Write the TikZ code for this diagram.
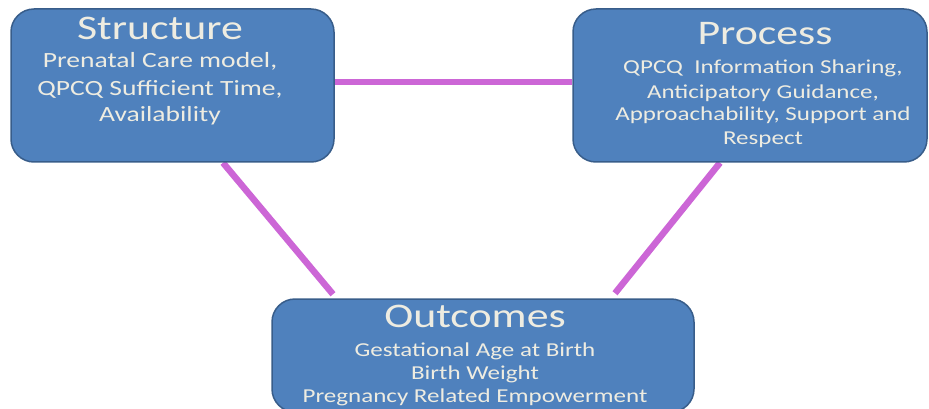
\documentclass[tikz,border=0pt]{standalone}
\usepackage{fontspec}
\newfontfamily\cf[FakeStretch=1.27]{Carlito}
\usetikzlibrary{backgrounds}
\definecolor{boxfill}{HTML}{4F81BD}
\definecolor{boxline}{HTML}{385D8A}
\definecolor{txtcol}{HTML}{EEECE1}
\definecolor{linkcol}{RGB}{204,102,214}
\tikzset{
  panel/.style={draw=boxline, line width=1.5pt, fill=boxfill, rounded corners=23pt,
    inner sep=0pt, rectangle},
  titletext/.style={text=txtcol, anchor=base, inner sep=0pt,
    font=\cf\fontsize{34.5}{40}\selectfont},
  bigbody/.style={text=txtcol, anchor=base, inner sep=0pt,
    font=\cf\fontsize{21.7}{26}\selectfont},
  smallbody/.style={text=txtcol, anchor=base, inner sep=0pt,
    font=\cf\fontsize{19.7}{24}\selectfont},
  linkline/.style={draw=linkcol, line width=6.5pt}
}
\begin{document}
\begin{tikzpicture}[x=1pt,y=-1pt]
\useasboundingbox (0,0) rectangle (929,409);
% boxes
\node[panel, minimum width=323pt, minimum height=153pt] (S) at (172.5,85.5) {};
\node[panel, minimum width=354pt, minimum height=153pt] (P) at (750,85.5) {};
\node[panel, minimum width=422pt, minimum height=113pt] (O) at (483,355.5) {};
% Structure text
\node[titletext] (st) at (160,40) {Structure};
\node[bigbody] (s1) at (160,68) {Prenatal Care model,};
\node[bigbody] (s2) at (160,96) {QPCQ Sufficient Time,};
\node[bigbody] (s3) at (160,122) {Availability};
% Process text
\node[titletext] (pt) at (765,45) {Process};
\node[smallbody] (p1) at (763,74) {QPCQ\ \ Information Sharing,};
\node[smallbody] (p2) at (763,98.5) {Anticipatory Guidance,};
\node[smallbody] (p3) at (763,121) {Approachability, Support and};
\node[smallbody] (p4) at (763,145) {Respect};
% Outcomes text
\node[titletext] (ot) at (475,327) {Outcomes};
\node[smallbody] (o1) at (475,356) {Gestational Age at Birth};
\node[smallbody] (o2) at (475,379) {Birth Weight};
\node[smallbody] (o3) at (475,402) {Pregnancy Related Empowerment};
% connectors
\begin{scope}[on background layer]
\draw[linkline] ([yshift=3.5pt]S.east) -- ([yshift=3.5pt]P.west);
\draw[linkline] ([xshift=50.5pt]S.south) -- ([xshift=-150pt,yshift=4pt]O.north);
\draw[linkline] ([xshift=-30pt]P.south) -- ([xshift=132pt,yshift=5pt]O.north);
\end{scope}
\end{tikzpicture}
\end{document}
